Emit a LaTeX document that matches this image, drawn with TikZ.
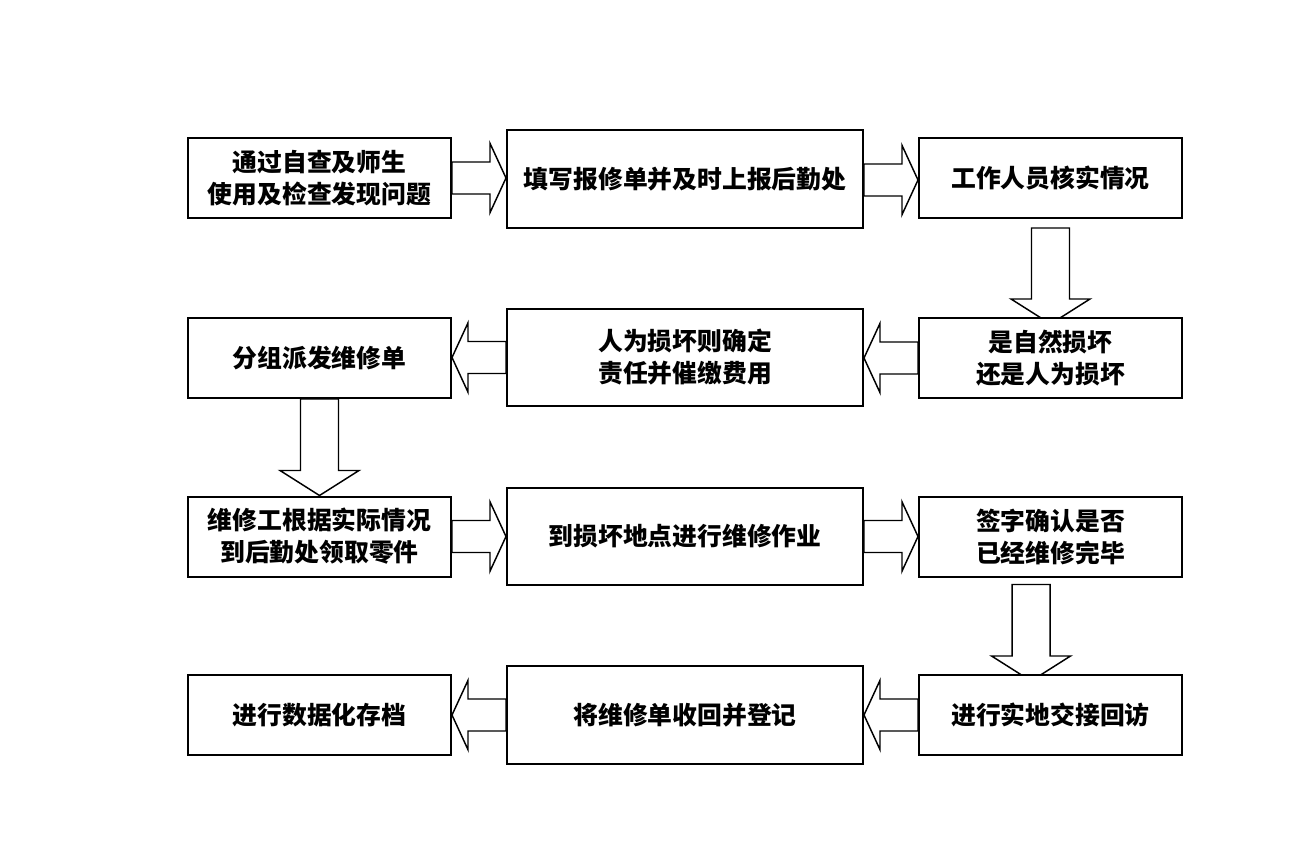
\documentclass[tikz,border=0pt]{standalone}
\usepackage{fontspec}
\newfontfamily\cjk{Noto Sans CJK SC}
\usetikzlibrary{calc,backgrounds}
\tikzset{
  box/.style={draw=black, line width=1.5pt, fill=white, align=center, inner sep=0pt,
    font=\cjk\bfseries\fontsize{18.6}{24}\selectfont},
  sbox/.style={box, minimum width=197.25pt, minimum height=60pt},
  wbox/.style={box, minimum width=267pt, minimum height=73pt},
  barrow/.style={draw=black, line width=1.1pt, fill=white, line join=miter},
}
\newcommand\rarr[2]{\draw[barrow] let \p1=(#1), \p2=(#2) in
  (\x1,\y1+12pt) -- (\x2-12pt,\y1+12pt) -- (\x2-12pt,\y1+26pt) -- (\x2,\y1)
  -- (\x2-12pt,\y1-26pt) -- (\x2-12pt,\y1-12pt) -- (\x1,\y1-12pt) -- cycle;}
\newcommand\larr[2]{\draw[barrow] let \p1=(#1), \p2=(#2) in
  (\x1,\y1+12pt) -- (\x2+12pt,\y1+12pt) -- (\x2+12pt,\y1+26pt) -- (\x2,\y1)
  -- (\x2+12pt,\y1-26pt) -- (\x2+12pt,\y1-12pt) -- (\x1,\y1-12pt) -- cycle;}
\newcommand\darr[2]{\draw[barrow] let \p1=(#1), \p2=(#2) in
  (\x1-14.25pt,\y1) -- (\x1-14.25pt,\y2+18.75pt) -- (\x1-29.6pt,\y2+18.75pt) -- (\x1,\y2)
  -- (\x1+29.6pt,\y2+18.75pt) -- (\x1+14.25pt,\y2+18.75pt) -- (\x1+14.25pt,\y1) -- cycle;}
\begin{document}
\begin{tikzpicture}[x=0.75pt,y=-0.75pt]
\useasboundingbox (0,0) rectangle (1313,861);
% row 1
\node[sbox] (A) at (319.5,178) {通过自查及师生\\使用及检查发现问题};
\node[wbox] (B) at (685,179) {填写报修单并及时上报后勤处};
\node[sbox] (C) at (1050.5,178) {工作人员核实情况};
% row 2
\node[sbox] (D) at (319.5,358) {分组派发维修单};
\node[wbox] (E) at (685,357.5) {人为损坏则确定\\责任并催缴费用};
\node[sbox] (F) at (1050.5,358) {是自然损坏\\还是人为损坏};
% row 3
\node[sbox] (G) at (319.5,536.5) {维修工根据实际情况\\到后勤处领取零件};
\node[wbox] (H) at (685,536.5) {到损坏地点进行维修作业};
\node[sbox] (I) at (1050.5,536.5) {签字确认是否\\已经维修完毕};
% row 4
\node[sbox] (J) at (319.5,715) {进行数据化存档};
\node[wbox] (K) at (685,715) {将维修单收回并登记};
\node[sbox] (L) at (1050.5,715) {进行实地交接回访};
\begin{scope}[on background layer]
\fill[white] (0,0) rectangle (1313,861);
\rarr{A.east}{B.west}
\rarr{[yshift=-0.75pt]B.east}{C.west}
\darr{[yshift=-6.75pt]C.south}{[yshift=-5.25pt]F.north}
\larr{F.west}{E.east}
\larr{E.west}{D.east}
\darr{D.south}{G.north}
\rarr{G.east}{H.west}
\rarr{H.east}{I.west}
\darr{[xshift=-14.6pt,yshift=-5.25pt]I.south}{[yshift=-5.25pt]L.north}
\larr{L.west}{K.east}
\larr{K.west}{J.east}
\end{scope}
\end{tikzpicture}
\end{document}
